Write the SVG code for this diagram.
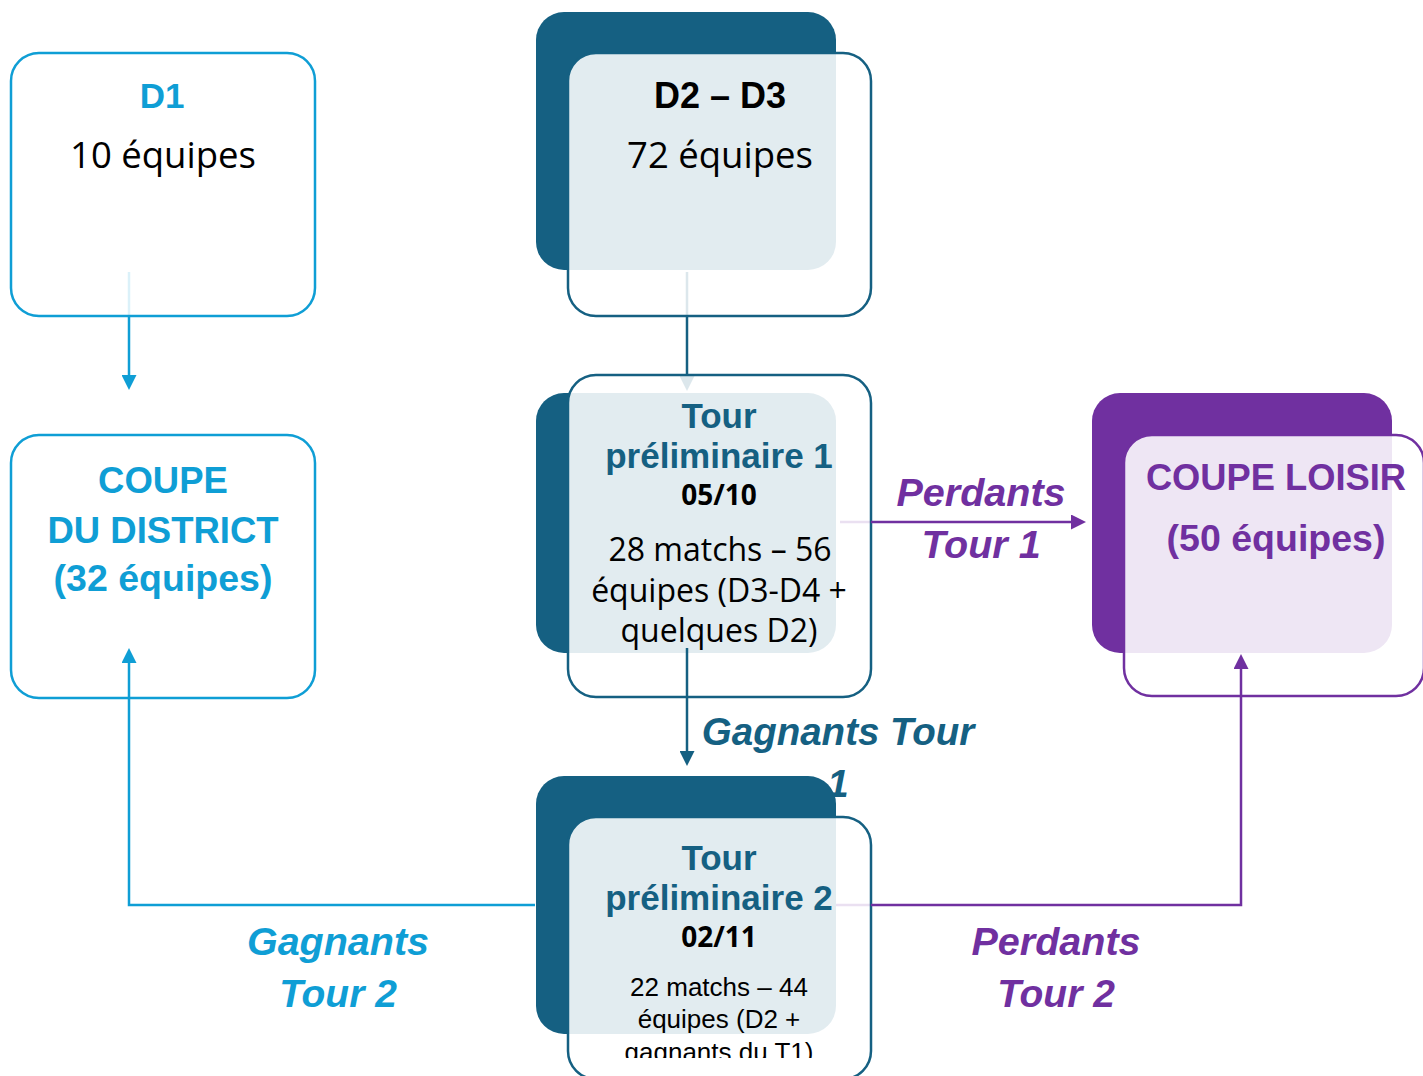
<svg xmlns="http://www.w3.org/2000/svg" width="1423" height="1076" viewBox="0 0 1423 1076">
<defs>
<style>
.front{fill:#fff;fill-opacity:0.88;stroke-width:2.5}
.tealS{stroke:#156082}
.blueS{stroke:#0F9ED5}
.purpS{stroke:#7030A0}
.backT{fill:#156082}
.backP{fill:#7030A0}
.h{font-family:"Liberation Sans",Arial,sans-serif;font-weight:bold;text-anchor:middle}
.b{font-family:"Open Sans","Noto Sans",sans-serif;text-anchor:middle;fill:#000}
.n{font-family:"Liberation Sans",Arial,sans-serif;text-anchor:middle;fill:#000}
.lbl{font-family:"Liberation Sans",Arial,sans-serif;font-weight:bold;font-style:italic;text-anchor:middle}
.c{fill:none;stroke-width:2.5}
.fade{stroke-opacity:0.15}
</style>
<marker id="mB" markerUnits="userSpaceOnUse" markerWidth="15" markerHeight="15" refX="0" refY="7.5" orient="auto" viewBox="0 0 15 15"><path d="M0,0 L15,7.5 L0,15 z" fill="#0F9ED5"/></marker>
<marker id="mT" markerUnits="userSpaceOnUse" markerWidth="15" markerHeight="15" refX="0" refY="7.5" orient="auto" viewBox="0 0 15 15"><path d="M0,0 L15,7.5 L0,15 z" fill="#156082"/></marker>
<marker id="mTf" markerUnits="userSpaceOnUse" markerWidth="15" markerHeight="15" refX="0" refY="7.5" orient="auto" viewBox="0 0 15 15"><path d="M0,0 L15,7.5 L0,15 z" fill="#156082" fill-opacity="0.15"/></marker>
<marker id="mP" markerUnits="userSpaceOnUse" markerWidth="15" markerHeight="15" refX="0" refY="7.5" orient="auto" viewBox="0 0 15 15"><path d="M0,0 L15,7.5 L0,15 z" fill="#7030A0"/></marker>
<clipPath id="clipT2"><rect x="560" y="800" width="320" height="258"/></clipPath>
</defs>
<rect x="0" y="0" width="1423" height="1076" fill="#fff"/>

<g id="node-d1">
<rect class="front blueS" x="11" y="53" width="304" height="263" rx="28"/>
<text class="h" x="162" y="108" font-size="35" fill="#0F9ED5">D1</text>
<text class="b" x="163" y="168" font-size="36.5">10 équipes</text>
</g>

<g id="node-d2d3">
<rect class="backT" x="536" y="12" width="300" height="258" rx="28"/>
<rect class="front tealS" x="568" y="53" width="303" height="263" rx="28"/>
<text class="h" x="720" y="108" font-size="36" fill="#000">D2 – D3</text>
<text class="b" x="720" y="168" font-size="36.5">72 équipes</text>
</g>

<g id="node-tour1">
<rect class="backT" x="536" y="393" width="300" height="260" rx="28"/>
<rect class="front tealS" x="568" y="375" width="303" height="322" rx="28"/>
<text class="h" x="719" y="428" font-size="35" fill="#156082">Tour</text>
<text class="h" x="719" y="468" font-size="35" fill="#156082">préliminaire 1</text>
<text class="b" x="719" y="505" font-size="28" font-weight="bold">05/10</text>
<text class="b" x="720" y="561" font-size="32">28 matchs – 56</text>
<text class="b" x="719" y="602" font-size="32">équipes (D3-D4 +</text>
<text class="b" x="719" y="642" font-size="32">quelques D2)</text>
</g>

<g id="node-coupe-district">
<rect class="front blueS" x="11" y="435" width="304" height="263" rx="28"/>
<text class="h" x="163" y="493" font-size="36.5" fill="#0F9ED5">COUPE</text>
<text class="h" x="163" y="543" font-size="36.5" fill="#0F9ED5">DU DISTRICT</text>
<text class="h" x="163" y="591" font-size="37.5" fill="#0F9ED5">(32 équipes)</text>
</g>

<g id="node-coupe-loisir">
<rect class="backP" x="1092" y="393" width="300" height="260" rx="28"/>
<rect class="front purpS" x="1124" y="435" width="300" height="261" rx="28"/>
<text class="h" x="1276" y="490" font-size="36.3" fill="#7030A0">COUPE LOISIR</text>
<text class="h" x="1276" y="551" font-size="37.5" fill="#7030A0">(50 équipes)</text>
</g>

<g id="node-tour2">
<rect class="backT" x="536" y="776" width="300" height="258" rx="28"/>
<rect class="front tealS" x="568" y="817" width="303" height="262" rx="28"/>
<text class="h" x="719" y="870" font-size="35" fill="#156082">Tour</text>
<text class="h" x="719" y="910" font-size="35" fill="#156082">préliminaire 2</text>
<text class="b" x="719" y="947" font-size="28" font-weight="bold">02/11</text>
<g clip-path="url(#clipT2)">
<text class="n" x="719" y="996" font-size="26">22 matchs – 44</text>
<text class="n" x="719" y="1028" font-size="26">équipes (D2 +</text>
<text class="n" x="719" y="1061" font-size="26">gagnants du T1)</text>
</g>
</g>

<g id="connectors">
<path class="c blueS fade" d="M129,272 V316"/>
<path class="c blueS" d="M129,316 V375" marker-end="url(#mB)"/>
<path class="c tealS fade" d="M687,272 V316"/>
<path class="c tealS" d="M687,316 V375"/>
<path class="c tealS fade" d="M687,375 V376" marker-end="url(#mTf)"/>
<path class="c tealS" d="M687,648 V751" marker-end="url(#mT)"/>
<path class="c purpS fade" d="M840,522 H871"/>
<path class="c purpS" d="M871,522 H1071" marker-end="url(#mP)"/>
<path class="c blueS" d="M535,905 H129 V663" marker-end="url(#mB)"/>
<path class="c purpS fade" d="M836,905 H871"/>
<path class="c purpS" d="M871,905 H1241 V669" marker-end="url(#mP)"/>
</g>

<g id="connector-labels">
<text class="lbl" x="981" y="506" font-size="39.5" fill="#7030A0">Perdants</text>
<text class="lbl" x="981" y="558" font-size="39.5" fill="#7030A0">Tour 1</text>
<text class="lbl" x="838" y="745" font-size="38.5" fill="#156082">Gagnants Tour</text>
<text class="lbl" x="838" y="797" font-size="38.5" fill="#156082">1</text>
<text class="lbl" x="338" y="955" font-size="39.5" fill="#0F9ED5">Gagnants</text>
<text class="lbl" x="338" y="1007" font-size="39" fill="#0F9ED5">Tour 2</text>
<text class="lbl" x="1056" y="955" font-size="39.5" fill="#7030A0">Perdants</text>
<text class="lbl" x="1056" y="1007" font-size="39" fill="#7030A0">Tour 2</text>
</g>
</svg>
